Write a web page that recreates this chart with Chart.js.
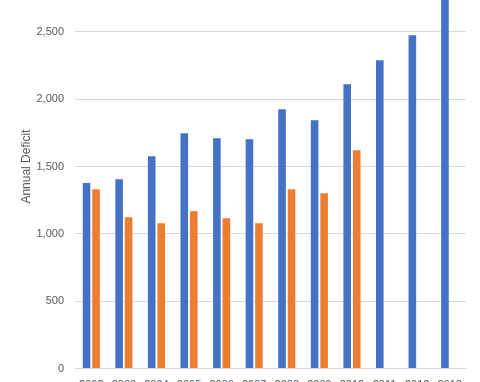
<!DOCTYPE html>
<html><head><meta charset="utf-8">
<script src="https://cdn.jsdelivr.net/npm/chart.js@4"></script>
<style>
html,body{margin:0;padding:0;background:#fff;}
#wrap{position:relative;width:480px;height:382px;overflow:hidden;background:#fff;}
#c{position:absolute;left:0;top:-42px;}
</style></head><body>
<div id="wrap"><canvas id="c" width="480" height="480" style="width:480px;height:480px"></canvas></div>
<script>
const categories = ['2002','2003','2004','2005','2006','2007','2008','2009','2010','2011','2012','2013'];
const seriesBlue = [1378, 1406, 1577, 1748, 1710, 1703, 1926, 1844, 2112, 2290, 2475, 2850];
const seriesOrange = [1332, 1124, 1079, 1168, 1116, 1079, 1332, 1302, 1621, null, null, null];
const yMin = 0, yMax = 3000, yStep = 500;
const yTitle = 'Annual Deficit';

const FONT = "'Liberation Sans', Arial, sans-serif";
const TEXT = '#595959';
const GRID = '#D9D9D9';

const canvas = document.getElementById('c');
const chart = new Chart(canvas.getContext('2d'), {
  type: 'bar',
  data: {
    labels: categories,
    datasets: [
      { label: 'Series 1', data: seriesBlue, backgroundColor: '#4472C4', borderWidth: 0,
        categoryPercentage: 0.583, barPercentage: 0.8 },
      { label: 'Series 2', data: seriesOrange, backgroundColor: '#ED7D31', borderWidth: 0,
        categoryPercentage: 0.583, barPercentage: 0.8 }
    ]
  },
  options: {
    responsive: false,
    animation: false,
    devicePixelRatio: 1,
    layout: { padding: { left: 0, right: 14, top: 0, bottom: 0 } },
    plugins: { legend: { display: false }, tooltip: { enabled: false } },
    scales: {
      x: {
        grid: { display: false, drawTicks: false },
        border: { display: true, color: GRID },
        ticks: { color: TEXT, font: { family: FONT, size: 11 }, padding: 10, maxRotation: 0, autoSkip: false }
      },
      y: {
        min: yMin, max: yMax,
        grid: { color: GRID, lineWidth: 1, drawTicks: false },
        border: { display: false },
        ticks: {
          stepSize: yStep, color: TEXT, font: { family: FONT, size: 11 }, padding: 11,
          callback: v => v.toLocaleString('en-US')
        },
        title: { display: true, text: yTitle, color: TEXT, font: { family: FONT, size: 12 },
          padding: { top: 19, bottom: 4 } },
        afterFit: s => { s.width = 75; }
      }
    }
  }
});

const AREA_TOP = -35, AREA_BOTTOM = 369;
let ca = chart.chartArea;
const diff = (ca.bottom - ca.top) - (AREA_BOTTOM - AREA_TOP);
chart.options.layout.padding.bottom += diff;
chart.update('none');
ca = chart.chartArea;
canvas.style.top = (AREA_TOP - ca.top) + 'px';
</script>
</body></html>
